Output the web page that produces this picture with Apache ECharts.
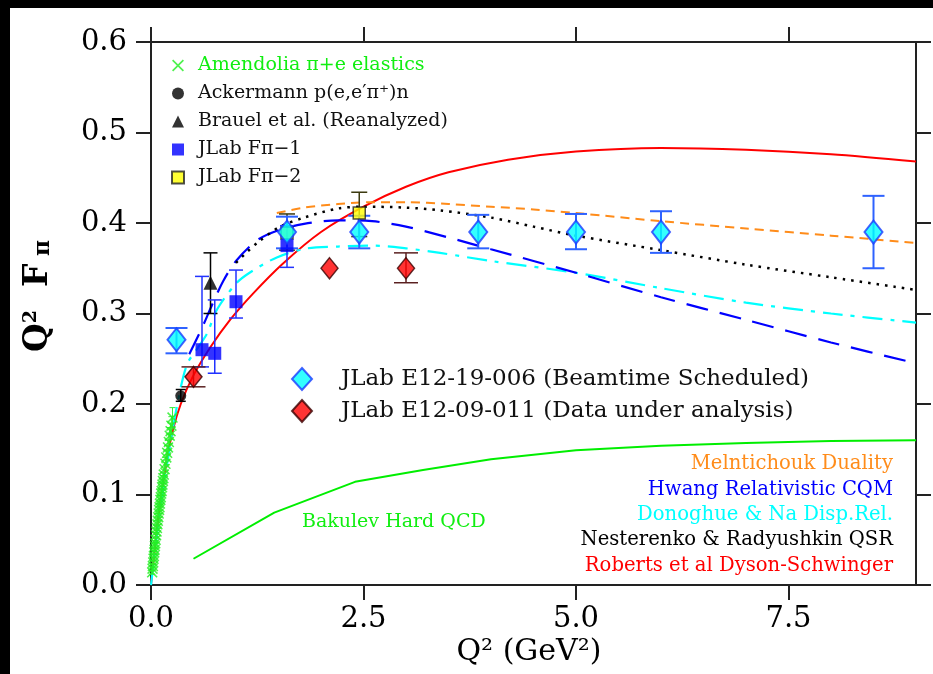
<!DOCTYPE html>
<html><head><meta charset="utf-8">
<script src="https://cdn.jsdelivr.net/npm/echarts@6/dist/echarts.min.js"></script>
<style>html,body{margin:0;padding:0;background:#fff;}#c{width:933px;height:674px;}</style>
</head><body><div id="c"></div>
<script>
// ---- axis ticks ----
const xTickValues = [0, 2.5, 5, 7.5];
const yTickValues = [0, 0.1, 0.2, 0.3, 0.4, 0.5, 0.6];

// ---- model curves (Q2, Q2*Fpi) ----
const robertsQ2  = [0, 0.03, 0.1, 0.18, 0.26, 0.35, 0.49, 0.7, 0.93, 1.2, 1.55, 2.0, 2.5, 3.0, 3.5, 4.2, 5.0, 6.0, 7.0, 8.0, 9.0];
const robertsVal = [0, 0.027, 0.085, 0.135, 0.172, 0.2, 0.23, 0.263, 0.293, 0.322, 0.355, 0.39, 0.418, 0.44, 0.456, 0.47, 0.479, 0.483, 0.481, 0.476, 0.468];

const donoghueQ2  = [0, 0.05, 0.1, 0.2, 0.3, 0.42, 0.55, 0.66, 0.78, 1.0, 1.16, 1.48, 1.84, 2.2, 2.6, 3.0, 3.4, 4.0, 5.0, 6.0, 7.0, 8.0, 9.0];
const donoghueVal = [0, 0.04, 0.078, 0.14, 0.195, 0.243, 0.262, 0.278, 0.305, 0.333, 0.345, 0.362, 0.372, 0.374, 0.375, 0.372, 0.367, 0.358, 0.345, 0.328, 0.312, 0.3, 0.29];

const hwangQ2  = [0.45, 0.6, 0.72, 0.85, 1.0, 1.25, 1.5, 1.8, 2.2, 2.6, 3.0, 3.5, 4.0, 5.0, 6.0, 7.0, 8.0, 9.0];
const hwangVal = [0.255, 0.284, 0.31, 0.336, 0.358, 0.381, 0.392, 0.399, 0.403, 0.402, 0.396, 0.384, 0.371, 0.345, 0.318, 0.293, 0.268, 0.245];

const nesterenkoQ2  = [1.0, 1.13, 1.25, 1.5, 1.8, 2.2, 2.5, 3.0, 3.4, 4.0, 4.5, 5.0, 6.0, 7.0, 8.0, 9.0];
const nesterenkoVal = [0.356, 0.368, 0.378, 0.395, 0.406, 0.416, 0.418, 0.417, 0.414, 0.406, 0.396, 0.386, 0.37, 0.354, 0.34, 0.326];

const melnitchoukQ2  = [1.48, 1.8, 2.2, 2.6, 3.0, 3.5, 4.0, 4.5, 5.0, 6.0, 7.0, 8.0, 9.0];
const melnitchoukVal = [0.411, 0.417, 0.421, 0.423, 0.423, 0.421, 0.418, 0.415, 0.411, 0.402, 0.394, 0.386, 0.378];

const bakulevQ2  = [0.5, 1.45, 2.4, 3.2, 4.0, 5.0, 6.0, 7.0, 8.0, 9.0];
const bakulevVal = [0.029, 0.08, 0.114, 0.127, 0.139, 0.149, 0.154, 0.157, 0.159, 0.16];

// ---- data points [Q2, value, low, high] ----
const amendolia = [
 [0.014,0.014,0.012,0.016],[0.018,0.018,0.016,0.020],[0.022,0.021,0.019,0.023],[0.026,0.025,0.023,0.027],
 [0.030,0.029,0.027,0.031],[0.034,0.032,0.030,0.034],[0.038,0.036,0.034,0.038],[0.042,0.039,0.037,0.041],
 [0.046,0.043,0.040,0.046],[0.050,0.046,0.043,0.049],[0.055,0.050,0.047,0.053],[0.060,0.055,0.052,0.058],
 [0.065,0.059,0.056,0.062],[0.070,0.063,0.060,0.066],[0.075,0.067,0.063,0.071],[0.080,0.071,0.067,0.075],
 [0.085,0.075,0.071,0.079],[0.090,0.079,0.075,0.083],[0.095,0.083,0.079,0.087],[0.100,0.086,0.082,0.090],
 [0.105,0.090,0.086,0.094],[0.110,0.094,0.089,0.099],[0.115,0.097,0.092,0.102],[0.120,0.101,0.096,0.106],
 [0.125,0.104,0.099,0.109],[0.130,0.108,0.102,0.114],[0.135,0.111,0.105,0.117],[0.140,0.115,0.109,0.121],
 [0.145,0.118,0.112,0.124],[0.150,0.122,0.116,0.128],[0.160,0.128,0.121,0.135],[0.170,0.134,0.127,0.141],
 [0.180,0.141,0.133,0.149],[0.190,0.146,0.138,0.154],[0.200,0.152,0.144,0.160],[0.210,0.158,0.149,0.167],
 [0.220,0.165,0.156,0.174],[0.230,0.170,0.161,0.179],[0.240,0.176,0.166,0.186],[0.253,0.185,0.174,0.196]
];
const ackermann = [[0.35, 0.209, 0.203, 0.216]];
const brauel = [[0.70, 0.334, 0.300, 0.367]];
const jlabFpi1 = [[0.60, 0.260, 0.241, 0.341], [0.75, 0.256, 0.234, 0.315], [1.00, 0.313, 0.295, 0.348], [1.60, 0.375, 0.351, 0.397]];
const jlabFpi2 = [[1.60, 0.389, 0.370, 0.410], [2.45, 0.411, 0.385, 0.434]];
const e1219006 = [[0.30, 0.271, 0.256, 0.284], [1.60, 0.390, 0.372, 0.407], [2.45, 0.390, 0.372, 0.408], [3.85, 0.390, 0.372, 0.409], [5.00, 0.390, 0.371, 0.410], [6.00, 0.390, 0.367, 0.413], [8.50, 0.390, 0.350, 0.430]];
const e1209011 = [[0.50, 0.230, 0.219, 0.241], [2.10, 0.350, 0.350, 0.350], [3.00, 0.350, 0.334, 0.367]];

// ---- texts ----
const legendNames = ['Amendolia π+e elastics', 'Ackermann p(e,e′π⁺)n', 'Brauel et al. (Reanalyzed)', 'JLab Fπ−1', 'JLab Fπ−2'];
const legend2Names = ['JLab E12-19-006 (Beamtime Scheduled)', 'JLab E12-09-011 (Data under analysis)'];
const modelLabels = ['Melntichouk Duality', 'Hwang Relativistic CQM', 'Donoghue & Na Disp.Rel.', 'Nesterenko & Radyushkin QSR', 'Roberts et al Dyson-Schwinger'];
const modelColors = ['#ff8c1a', '#0000ff', '#00ffff', '#000000', '#ff0000'];
const bakulevLabel = 'Bakulev Hard QCD';

const FONT = '"DejaVu Serif", "Liberation Serif", serif';
const zip = (xs, ys) => xs.map((x, i) => [x, ys[i]]);
const crossPath = 'path://M0,1 L1,0 L5,4 L9,0 L10,1 L6,5 L10,9 L9,10 L5,6 L1,10 L0,9 L4,5 Z';

function errSeries(data, color, cap, lw, z) {
  return {
    type: 'custom', z: z || 3, silent: true,
    data: data.filter(d => d[3] > d[2]).map(d => [d[0], d[2], d[3]]),
    encode: { x: 0, y: [1, 2] },
    renderItem: function (params, api) {
      const p1 = api.coord([api.value(0), api.value(1)]);
      const p2 = api.coord([api.value(0), api.value(2)]);
      const st = { stroke: color, lineWidth: lw };
      return { type: 'group', children: [
        { type: 'line', shape: { x1: p1[0], y1: p1[1], x2: p2[0], y2: p2[1] }, style: st },
        { type: 'line', shape: { x1: p1[0] - cap, y1: p1[1], x2: p1[0] + cap, y2: p1[1] }, style: st },
        { type: 'line', shape: { x1: p2[0] - cap, y1: p2[1], x2: p2[0] + cap, y2: p2[1] }, style: st }
      ]};
    }
  };
}
function curve(name, xs, ys, color, dash, width, smooth) {
  return { type: 'line', name: name, data: zip(xs, ys), showSymbol: false, symbol: 'none', smooth: smooth, z: 2,
    lineStyle: { color: color, width: width, type: dash }, silent: true };
}

const axisLineStyle = { color: '#222', width: 2 };
const chart = echarts.init(document.getElementById('c'));
chart.setOption({
  backgroundColor: '#fff',
  animation: false,
  grid: { left: 151, top: 42, right: 17, bottom: 89 },
  xAxis: [
    { type: 'value', position: 'bottom', min: 0, max: 9, interval: 2.5,
      axisLine: { onZero: false, lineStyle: axisLineStyle }, splitLine: { show: false },
      axisTick: { inside: false, length: 15, lineStyle: axisLineStyle, customValues: xTickValues },
      axisLabel: { customValues: xTickValues, formatter: v => v.toFixed(1), fontFamily: FONT, fontSize: 29, color: '#000', margin: 20 } },
    { type: 'value', position: 'top', min: 0, max: 9, interval: 2.5,
      axisLine: { onZero: false, lineStyle: axisLineStyle }, splitLine: { show: false },
      axisTick: { inside: false, length: 15, lineStyle: axisLineStyle, customValues: xTickValues },
      axisLabel: { show: false } }
  ],
  yAxis: [
    { type: 'value', position: 'left', min: 0, max: 0.6, interval: 0.1,
      axisLine: { onZero: false, lineStyle: axisLineStyle }, splitLine: { show: false },
      axisTick: { inside: false, length: 15, lineStyle: axisLineStyle },
      axisLabel: { formatter: v => v.toFixed(1), fontFamily: FONT, fontSize: 29, color: '#000', margin: 24 } },
    { type: 'value', position: 'right', min: 0, max: 0.6, interval: 0.1,
      axisLine: { onZero: false, lineStyle: axisLineStyle }, splitLine: { show: false },
      axisTick: { inside: false, length: 15, lineStyle: axisLineStyle },
      axisLabel: { show: false } }
  ],
  legend: [
    { orient: 'vertical', left: 166, top: 51, itemWidth: 12, itemHeight: 12, itemGap: 9,
      textStyle: { fontFamily: FONT, fontSize: 19, color: '#111', padding: [0, 0, 0, 9] },
      data: [
        { name: legendNames[0], textStyle: { color: '#11ee11' } },
        { name: legendNames[1] }, { name: legendNames[2] }, { name: legendNames[3] }, { name: legendNames[4] }
      ] },
    { orient: 'vertical', left: 286, top: 362, itemWidth: 20, itemHeight: 22, itemGap: 8,
      textStyle: { fontFamily: FONT, fontSize: 23, color: '#111', padding: [0, 0, 0, 24] },
      data: [{ name: legend2Names[0] }, { name: legend2Names[1] }] }
  ],
  graphic: [
    { type: 'rect', shape: { x: 0, y: 0, width: 10, height: 674 }, style: { fill: '#000' }, z: 100 },
    { type: 'rect', shape: { x: 0, y: 0, width: 933, height: 8 }, style: { fill: '#000' }, z: 100 },
    { type: 'text', x: 529, y: 652, style: { text: 'Q² (GeV²)', font: '30px ' + FONT, fill: '#000', align: 'center', verticalAlign: 'middle' } },
    { type: 'text', x: 38, y: 296, rotation: Math.PI / 2,
      style: { text: '{a|Q}{b|2}{a|  F}{c| π}', align: 'center', verticalAlign: 'middle', fill: '#000',
        rich: { a: { fontFamily: FONT, fontWeight: 'bold', fontSize: 33, fill: '#000' },
                b: { fontFamily: FONT, fontWeight: 'bold', fontSize: 19, verticalAlign: 'top', fill: '#000' },
                c: { fontFamily: FONT, fontWeight: 'bold', fontSize: 22, verticalAlign: 'bottom', fill: '#000' } } } },
    { type: 'text', x: 302, y: 522, style: { text: bakulevLabel, font: '19px ' + FONT, fill: '#11ee11', align: 'left', verticalAlign: 'middle' } }
  ].concat(modelLabels.map((t, i) => ({
    type: 'text', x: 893, y: [464, 490, 515, 540, 566][i],
    style: { text: t, font: '19.6px ' + FONT, fill: modelColors[i], align: 'right', verticalAlign: 'middle' }
  }))),
  series: [
    curve('Roberts', robertsQ2, robertsVal, '#ff0000', 'solid', 2, 0.3),
    curve('Donoghue', donoghueQ2, donoghueVal, '#00ffff', [20, 8, 4, 8], 2.2, 0.3),
    curve('Hwang', hwangQ2, hwangVal, '#0000ff', [22, 12], 2.2, 0.3),
    curve('Nesterenko', nesterenkoQ2, nesterenkoVal, '#000000', [2.5, 6], 2.5, 0.3),
    curve('Melnitchouk', melnitchoukQ2, melnitchoukVal, '#ff8c1a', [9, 6], 2, 0.3),
    curve('Bakulev', bakulevQ2, bakulevVal, '#00ee00', 'solid', 2, false),
    errSeries(amendolia, '#33ee33', 3, 1, 3),
    errSeries(ackermann, '#000', 5, 1.5, 3),
    errSeries(brauel, '#000', 7, 1.5, 3),
    errSeries(jlabFpi1, '#2233ff', 7, 1.5, 3),
    errSeries(jlabFpi2, '#3d3a10', 8, 1.5, 3),
    errSeries(e1219006, '#2e62ff', 11, 2, 3),
    errSeries(e1209011, '#5a2020', 12, 1.5, 3),
    { type: 'scatter', name: legendNames[0], data: amendolia.map(d => [d[0], d[1]]), symbol: crossPath, symbolSize: 11, z: 5,
      itemStyle: { color: '#22ee22' } },
    { type: 'scatter', name: legendNames[1], data: ackermann.map(d => [d[0], d[1]]), symbol: 'circle', symbolSize: 11, z: 5,
      itemStyle: { color: '#000' } },
    { type: 'scatter', name: legendNames[2], data: brauel.map(d => [d[0], d[1]]), symbol: 'triangle', symbolSize: 14, z: 5,
      itemStyle: { color: '#000' } },
    { type: 'scatter', name: legendNames[4], data: jlabFpi2.map(d => [d[0], d[1]]), symbol: 'rect', symbolSize: 12, z: 5,
      itemStyle: { color: '#ffff00', borderColor: '#222', borderWidth: 1.5 } },
    { type: 'scatter', name: legendNames[3], data: jlabFpi1.map(d => [d[0], d[1]]), symbol: 'rect', symbolSize: 13, z: 5,
      itemStyle: { color: '#0000ff' } },
    { type: 'scatter', name: legend2Names[0], data: e1219006.map(d => [d[0], d[1]]), symbol: 'diamond', symbolSize: [18, 23], z: 6,
      itemStyle: { color: '#00ffff', borderColor: '#1a3cff', borderWidth: 2 } },
    { type: 'scatter', name: legend2Names[1], data: e1209011.map(d => [d[0], d[1]]), symbol: 'diamond', symbolSize: [17, 21], z: 6,
      itemStyle: { color: '#ff0000', borderColor: '#3a0000', borderWidth: 1.5 } }
  ]
});
</script></body></html>
